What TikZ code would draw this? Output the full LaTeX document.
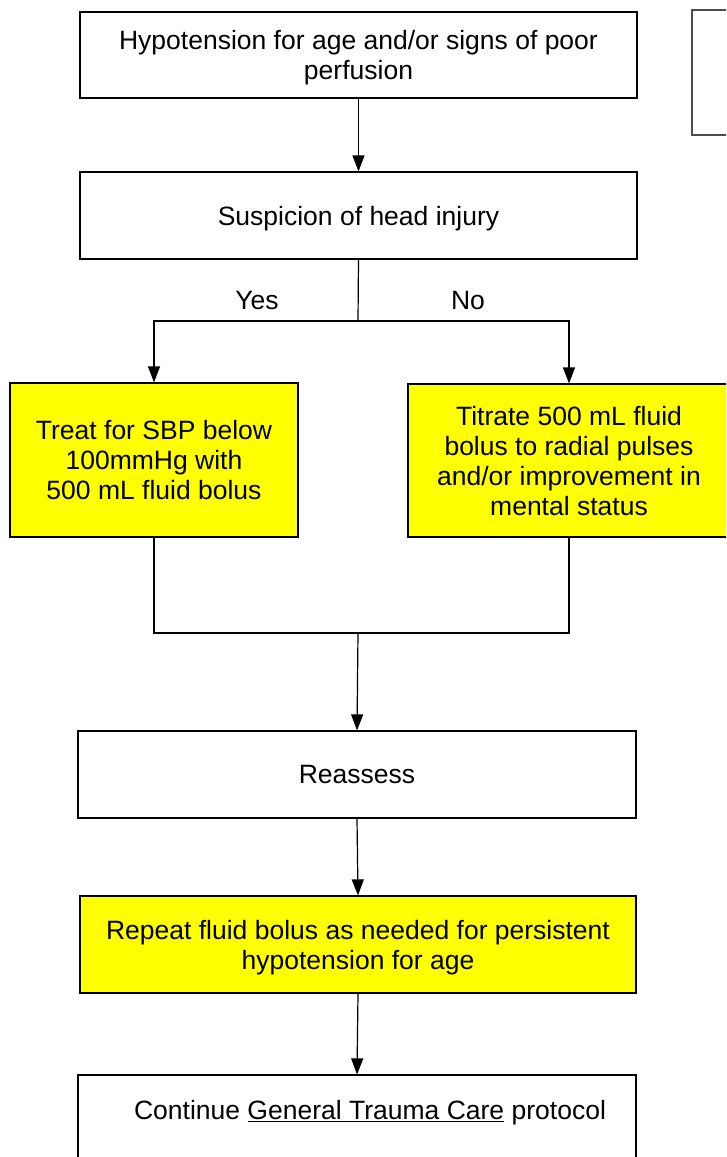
\documentclass[tikz,border=0pt]{standalone}
\usepackage{fontspec}
\setmainfont{Liberation Sans}
\usetikzlibrary{arrows.meta}
\definecolor{ylw}{RGB}{255,255,0}
\tikzset{
  box/.style={draw=black, line width=1.2pt, rectangle, inner sep=0pt, align=center,
    text depth=0pt, font=\fontsize{26.5}{30}\selectfont},
  yellowbox/.style={box, fill=ylw},
  arrow/.style={line width=1.2pt, -{Triangle[width=12pt,length=16pt]}},
  conn/.style={line width=1.2pt},
  lbl/.style={font=\fontsize{26.5}{30}\selectfont, inner sep=0pt}
}
\begin{document}
\begin{tikzpicture}[x=1pt,y=-1pt]
\useasboundingbox (0,0) rectangle (726,1157);
\clip (0,0) rectangle (726,1157);
\fill[white] (0,0) rectangle (726,1157);
\node[box, minimum width=557pt, minimum height=86pt] (b1) at (358.5,55) {Hypotension for age and/or signs of poor\\perfusion};
\node[draw=black!70, line width=1.2pt, rectangle, minimum width=60pt, minimum height=125pt, inner sep=0pt] (side) at (722,72.5) {};
\node[box, minimum width=557pt, minimum height=87pt] (b2) at (358.5,215.5) {Suspicion of head injury};
\node[yellowbox, minimum width=288pt, minimum height=154pt] (b3) at (154,460) {Treat for SBP below\\100mmHg with\\500 mL fluid bolus};
\node[yellowbox, minimum width=322pt, minimum height=153pt] (b4) at (569,460.5) {Titrate 500 mL fluid\\bolus to radial pulses\\and/or improvement in\\mental status};
\node[box, minimum width=558pt, minimum height=87pt] (b5) at (357,774.5) {Reassess};
\node[yellowbox, minimum width=556pt, minimum height=97pt] (b6) at (358,944.5) {Repeat fluid bolus as needed for persistent\\hypotension for age};
\node[box, minimum width=558pt, minimum height=100pt] (b7) at (357,1125) {};
\node[lbl] (b7t) at (370,1113) {Continue \underline{General Trauma Care} protocol};
\node[lbl] (yes) at (257,301) {Yes};
\node[lbl] (no) at (468,301) {No};
\coordinate (split) at (358,321);
\coordinate (merge) at (358,633);
\draw[arrow] (b1.south) -- (b2.north);
\draw[conn] (b2.south) -- (split);
\draw[arrow] (split) -| (b3.north);
\draw[arrow] (split) -| (b4.north);
\draw[conn] (b3.south) |- (merge);
\draw[conn] (b4.south) |- (merge);
\draw[arrow] (merge) -- (b5.north);
\draw[arrow] (b5.south) -- (b6.north);
\draw[arrow] (b6.south) -- (b7.north);
\end{tikzpicture}
\end{document}
